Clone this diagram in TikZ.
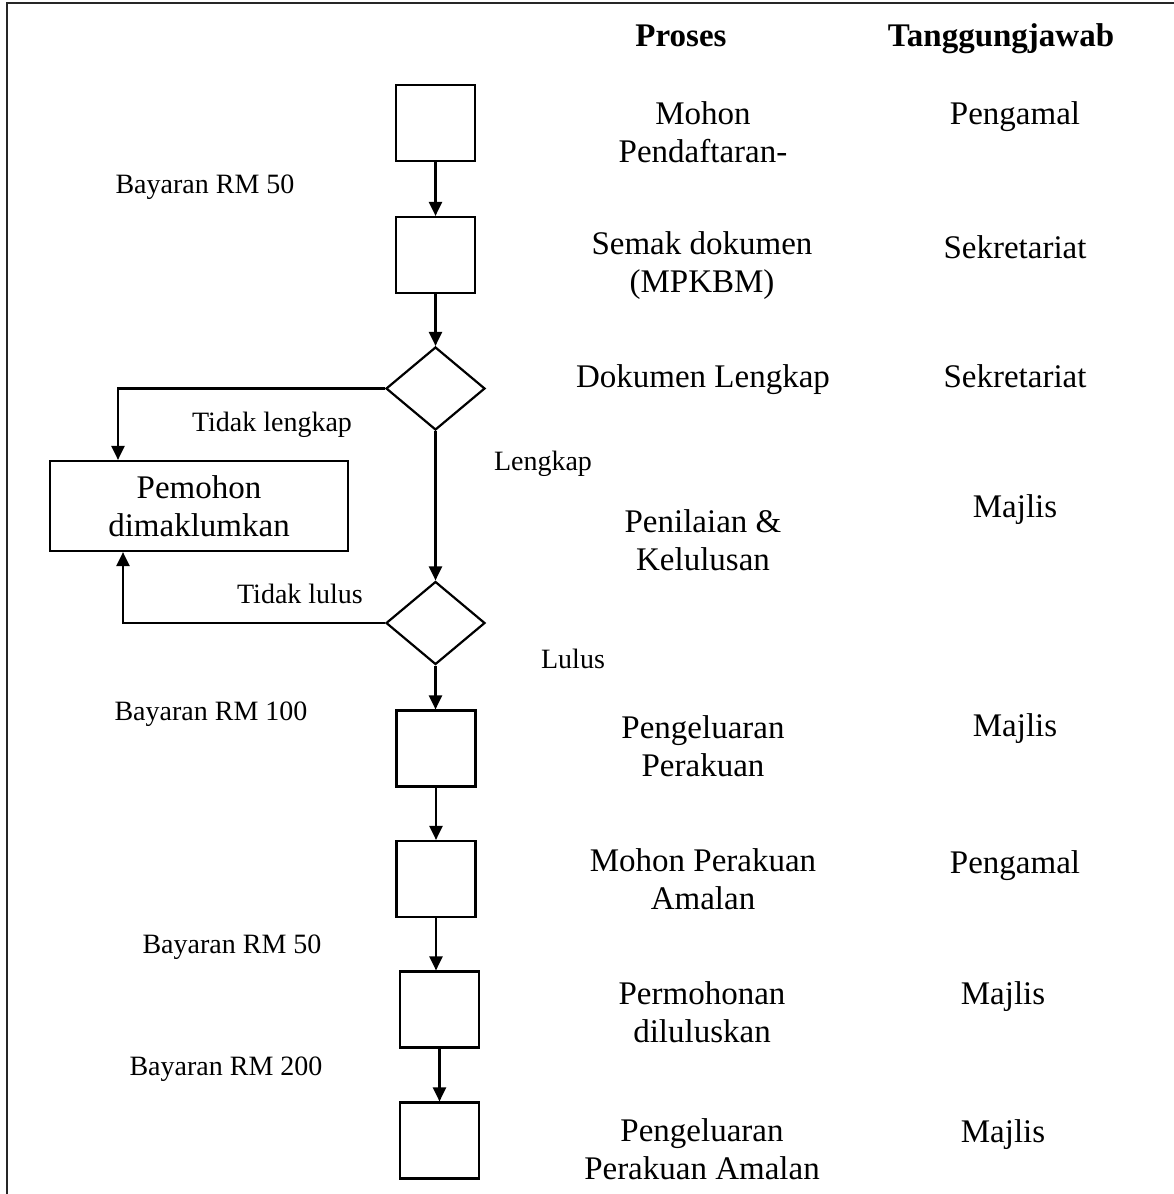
\documentclass[tikz,border=0pt]{standalone}
\usepackage{fontspec}
\setmainfont{Liberation Serif}
\usetikzlibrary{shapes.geometric,arrows.meta}
\begin{document}
\begin{tikzpicture}[x=1pt,y=-1pt,
  line width=2.2pt,
  box/.style={draw,rectangle,minimum width=79pt,minimum height=76pt,inner sep=0pt},
  dec/.style={draw,diamond,minimum width=99pt,minimum height=83pt,inner sep=0pt},
  arr/.style={-{Triangle[length=14pt,width=13pt]}},
  big/.style={font=\fontsize{33}{38}\selectfont,align=center,inner sep=0pt},
  head/.style={font=\fontsize{33}{38}\selectfont\bfseries,inner sep=0pt},
  lab/.style={font=\fontsize{28}{33}\selectfont,inner sep=0pt}]
\useasboundingbox (0,0) rectangle (1174,1194);
\draw[line width=2.4pt,black!85] (1174,3) -- (7,3) -- (7,1194);

% flow nodes
\node[box] (b1) at (435.5,123) {};
\node[box] (b2) at (435.5,255) {};
\node[dec] (d1) at (435.5,388.5) {};
\node[dec] (d2) at (435.5,623) {};
\node[box] (b3) at (436,748.5) {};
\node[box] (b4) at (436,879) {};
\node[box] (b5) at (439.5,1009.5) {};
\node[box] (b6) at (439.5,1140.5) {};
\node[draw,rectangle,minimum width=298pt,minimum height=90pt,inner sep=0pt,big] (pem) at (199,506) {Pemohon\\dimaklumkan};

% connectors
\draw[arr] (b1.south) -- (b2.north);
\draw[arr] (b2.south) -- (d1.north);
\draw[arr] (d1.south) -- (d2.north);
\draw[arr] (d2.south) -- (d2.south |- b3.north);
\draw[arr] (b3.south) -- (b4.north);
\draw[arr] (b4.south) -- (b4.south |- b5.north);
\draw[arr] (b5.south) -- (b6.north);
\draw[arr] (d1.west) -| ([xshift=-81pt]pem.north);
\draw[arr] (d2.west) -| ([xshift=-76pt]pem.south);

% headings
\node[head] (hp) at (681,36) {Proses};
\node[head] (ht) at (1001,39) {Tanggungjawab};

% process texts
\node[big] (p1) at (703,132) {Mohon\\Pendaftaran-};
\node[big] (p2) at (702,266) {Semak dokumen\\(MPKBM)};
\node[big] (p3) at (703,380) {Dokumen Lengkap};
\node[big] (p4) at (703,540) {Penilaian \&\\Kelulusan};
\node[big] (p5) at (703,746) {Pengeluaran\\Perakuan};
\node[big] (p6) at (703,879) {Mohon Perakuan\\Amalan};
\node[big] (p7) at (702,1012) {Permohonan\\diluluskan};
\node[big] (p8) at (702,1149) {Pengeluaran\\Perakuan Amalan};

% responsibility texts
\node[big] (r1) at (1015,117) {Pengamal};
\node[big] (r2) at (1015,247) {Sekretariat};
\node[big] (r3) at (1015,376) {Sekretariat};
\node[big] (r4) at (1015,510) {Majlis};
\node[big] (r5) at (1015,729) {Majlis};
\node[big] (r6) at (1015,866) {Pengamal};
\node[big] (r7) at (1003,997) {Majlis};
\node[big] (r8) at (1003,1135) {Majlis};

% side labels
\node[lab] (l1) at (205,187) {Bayaran RM 50};
\node[lab] (l2) at (272,425) {Tidak lengkap};
\node[lab] (l3) at (543,464) {Lengkap};
\node[lab] (l4) at (300,594) {Tidak lulus};
\node[lab] (l5) at (573,659) {Lulus};
\node[lab] (l6) at (211,714) {Bayaran RM 100};
\node[lab] (l7) at (232,947) {Bayaran RM 50};
\node[lab] (l8) at (226,1069) {Bayaran RM 200};
\end{tikzpicture}
\end{document}
